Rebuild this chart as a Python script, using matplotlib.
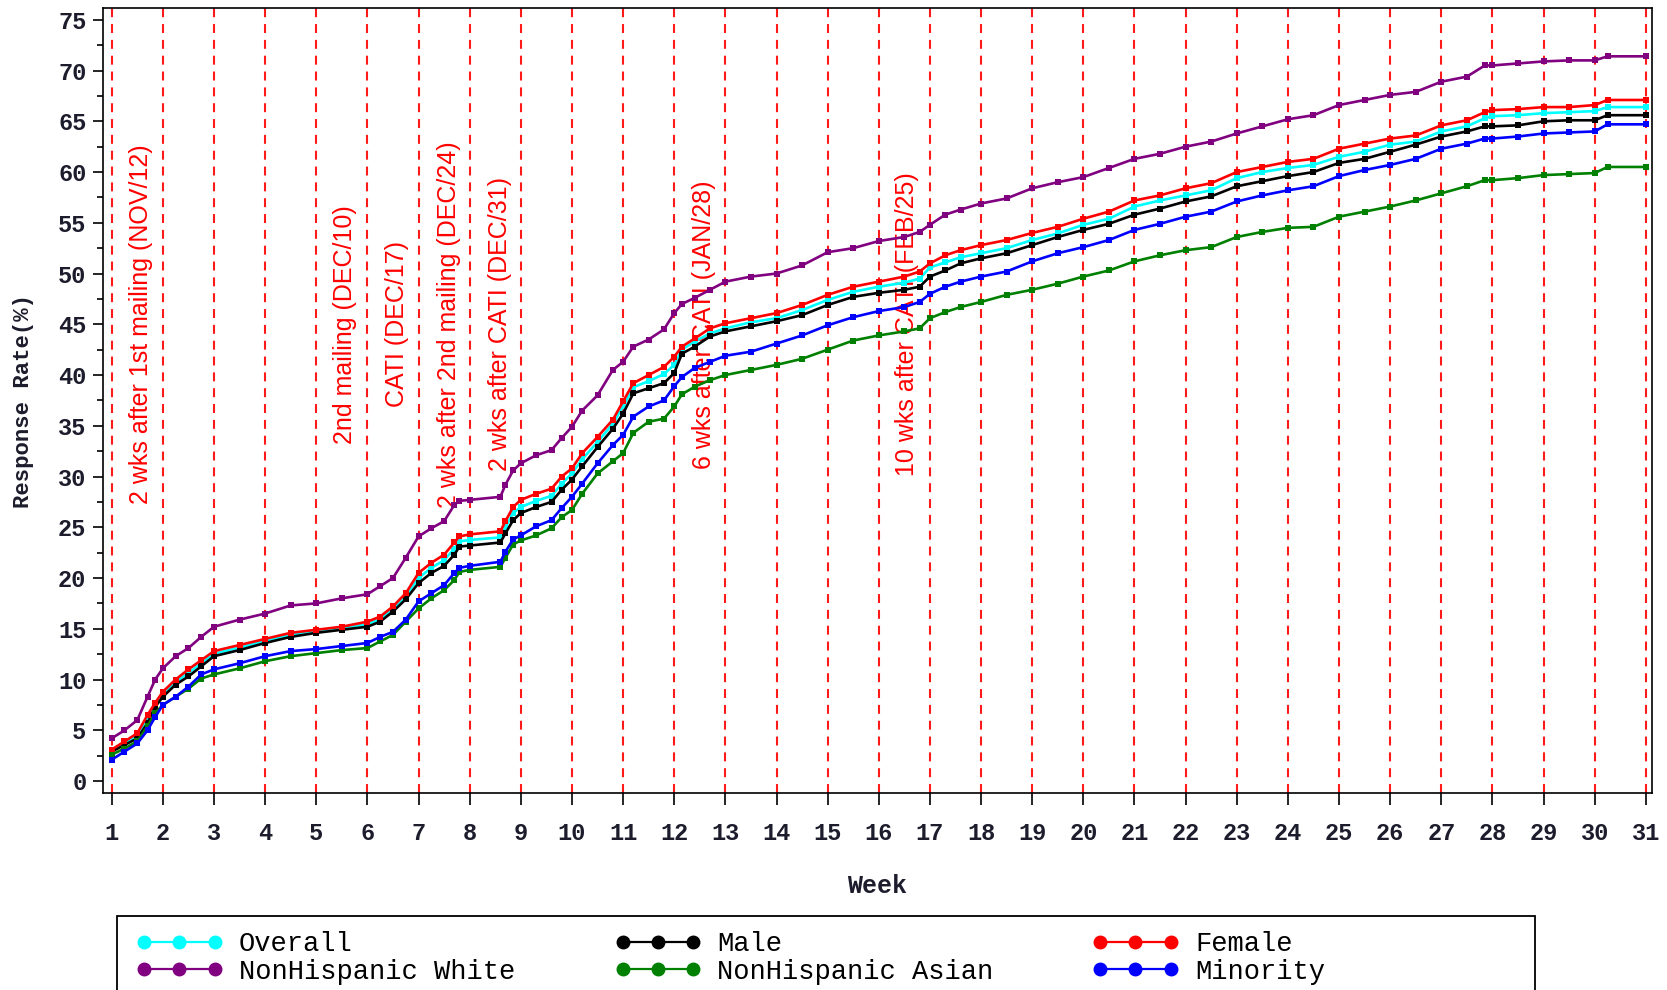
import numpy as np
import matplotlib
matplotlib.use("Agg")
import matplotlib.pyplot as plt
from matplotlib.lines import Line2D
from matplotlib.patches import Rectangle

# cumulative response rate (%) by week since first mailing
weeks = [1, 1.25, 1.5, 1.7, 1.85, 2, 2.25, 2.5, 2.75, 3, 3.5, 4, 4.5, 5, 5.5,
         6, 6.25, 6.5, 6.75, 7, 7.25, 7.5, 7.7, 7.8, 8, 8.6, 8.7, 8.85,
         9, 9.3, 9.6, 9.8, 10, 10.2, 10.5, 10.8, 11, 11.2, 11.5, 11.8,
         12, 12.15, 12.4, 12.7, 13, 13.5, 14, 14.5, 15, 15.5, 16, 16.5, 16.8,
         17, 17.3, 17.6, 18, 18.5, 19, 19.5, 20, 20.5, 21, 21.5, 22, 22.5,
         23, 23.5, 24, 24.5, 25, 25.5, 26, 26.5, 27, 27.5, 27.85, 28, 28.5,
         29, 29.5, 30, 30.25, 31]

overall = [3.0, 3.7, 4.45, 6.1, 7.5, 8.55, 9.75, 10.65, 11.6, 12.55, 13.15, 13.8, 14.4, 14.75, 15.05,
           15.45, 15.95, 16.95, 18.2, 20.0, 21.0, 21.75, 22.9, 23.6, 23.75, 24.0, 25.0, 26.4,
           27.0, 27.6, 28.1, 29.3, 30.3, 31.7, 33.4, 35.2, 36.9, 38.8, 39.4, 40.1,
           41.0, 42.5, 43.3, 44.1, 44.6, 45.2, 45.6, 46.4, 47.4, 48.2, 48.7, 49.1, 49.5,
           50.6, 51.1, 51.6, 52.0, 52.5, 53.3, 53.95, 54.8, 55.4, 56.6, 57.2, 57.7, 58.2,
           59.4, 60.0, 60.4, 60.7, 61.5, 62.0, 62.7, 63.0, 64.0, 64.5, 65.3, 65.5, 65.6,
           65.8, 65.9, 66.0, 66.4, 66.4]

male = [2.9, 3.55, 4.2, 5.7, 7.3, 8.3, 9.5, 10.3, 11.3, 12.3, 12.9, 13.6, 14.2, 14.6, 14.9,
        15.2, 15.7, 16.7, 17.9, 19.5, 20.5, 21.2, 22.3, 23.1, 23.2, 23.5, 24.4, 25.7,
        26.4, 27.0, 27.5, 28.7, 29.7, 31.0, 32.9, 34.7, 36.2, 38.2, 38.7, 39.2,
        40.2, 42.1, 42.8, 43.8, 44.3, 44.8, 45.3, 45.9, 46.9, 47.7, 48.1, 48.4, 48.7,
        49.7, 50.3, 51.0, 51.5, 52.0, 52.8, 53.6, 54.3, 54.9, 55.8, 56.4, 57.1, 57.6,
        58.6, 59.1, 59.6, 60.0, 60.9, 61.3, 62.0, 62.7, 63.5, 64.0, 64.5, 64.5, 64.6,
        65.0, 65.1, 65.1, 65.6, 65.6]

female = [3.1, 3.9, 4.7, 6.5, 7.7, 8.8, 10.0, 11.0, 11.9, 12.8, 13.4, 14.0, 14.6, 14.9, 15.2,
          15.7, 16.2, 17.2, 18.5, 20.5, 21.5, 22.3, 23.5, 24.1, 24.3, 24.6, 25.6, 27.0,
          27.7, 28.3, 28.8, 30.0, 30.8, 32.3, 33.9, 35.6, 37.4, 39.2, 40.0, 40.8,
          41.8, 42.8, 43.6, 44.6, 45.1, 45.6, 46.1, 46.9, 47.9, 48.7, 49.2, 49.7, 50.2,
          51.0, 51.8, 52.3, 52.8, 53.3, 54.0, 54.6, 55.4, 56.1, 57.2, 57.7, 58.4, 58.9,
          60.0, 60.5, 61.0, 61.3, 62.3, 62.8, 63.3, 63.6, 64.6, 65.1, 65.9, 66.1, 66.2,
          66.4, 66.4, 66.6, 67.1, 67.1]

nh_white = [4.2, 5.0, 6.0, 8.3, 10.0, 11.1, 12.3, 13.1, 14.2, 15.2, 15.9, 16.5, 17.3, 17.5, 18.0,
            18.4, 19.2, 20.0, 22.0, 24.1, 24.9, 25.6, 27.2, 27.6, 27.7, 28.0, 29.2, 30.6,
            31.3, 32.1, 32.6, 33.8, 34.9, 36.5, 38.0, 40.5, 41.3, 42.8, 43.5, 44.5,
            46.1, 47.0, 47.6, 48.4, 49.2, 49.7, 50.0, 50.8, 52.1, 52.5, 53.2, 53.6, 54.1,
            54.8, 55.8, 56.3, 56.9, 57.4, 58.4, 59.0, 59.5, 60.4, 61.3, 61.8, 62.5, 63.0,
            63.8, 64.5, 65.2, 65.6, 66.6, 67.1, 67.6, 67.9, 68.9, 69.4, 70.5, 70.5, 70.7,
            70.9, 71.0, 71.0, 71.4, 71.4]

nh_asian = [2.6, 3.2, 3.9, 5.4, 6.7, 7.5, 8.3, 9.1, 10.1, 10.5, 11.1, 11.8, 12.3, 12.6, 12.9,
            13.1, 13.75, 14.4, 15.7, 17.0, 18.0, 18.8, 19.8, 20.6, 20.8, 21.1, 22.0, 23.3,
            23.7, 24.2, 24.9, 26.0, 26.7, 28.3, 30.3, 31.5, 32.3, 34.3, 35.4, 35.7,
            36.9, 38.1, 38.85, 39.5, 40.0, 40.5, 41.0, 41.6, 42.5, 43.4, 43.9, 44.3, 44.6,
            45.6, 46.2, 46.7, 47.2, 47.9, 48.4, 49.0, 49.7, 50.3, 51.2, 51.8, 52.3, 52.6,
            53.6, 54.1, 54.5, 54.6, 55.6, 56.1, 56.6, 57.2, 57.9, 58.6, 59.2, 59.2, 59.4,
            59.7, 59.8, 59.9, 60.5, 60.5]

minority = [2.1, 2.9, 3.7, 5.0, 6.3, 7.5, 8.3, 9.3, 10.5, 11.0, 11.6, 12.3, 12.8, 13.0, 13.3,
            13.6, 14.2, 14.7, 15.9, 17.7, 18.5, 19.3, 20.5, 21.0, 21.2, 21.6, 22.6, 23.8,
            24.2, 25.1, 25.7, 26.9, 28.0, 29.3, 31.3, 33.1, 34.1, 35.9, 36.9, 37.5,
            38.9, 39.8, 40.7, 41.3, 41.9, 42.3, 43.1, 43.9, 44.9, 45.7, 46.3, 46.7, 47.2,
            48.0, 48.7, 49.2, 49.7, 50.2, 51.2, 52.0, 52.6, 53.3, 54.3, 54.9, 55.6, 56.1,
            57.1, 57.7, 58.2, 58.6, 59.6, 60.2, 60.7, 61.3, 62.3, 62.8, 63.3, 63.3, 63.5,
            63.8, 63.9, 64.0, 64.7, 64.7]

series_names = ['Overall', 'Male', 'Female',
                'NonHispanic White', 'NonHispanic Asian', 'Minority']
series_values = [overall, male, female, nh_white, nh_asian, minority]
series_colors = ['#00ffff', '#000000', '#ff0000', '#800080', '#008000', '#0000ff']

# fieldwork events, placed between week lines
event_weeks = [1.58, 5.57, 6.57, 7.59, 8.59, 12.58, 16.55]
event_labels = ['2 wks after 1st mailing (NOV/12)',
                '2nd mailing (DEC/10)',
                'CATI (DEC/17)',
                '2 wks after 2nd mailing (DEC/24)',
                '2 wks after CATI (DEC/31)',
                '6 wks after CATI (JAN/28)',
                '10 wks after CATI (FEB/25)']

plt.rcParams['font.family'] = ['Liberation Mono', 'DejaVu Sans Mono']

fig = plt.figure(figsize=(16.67, 9.9), dpi=100)
ax = fig.add_axes([0.0618, 0.199, 0.9292, 0.7929])

week_grid = np.arange(1, 32)
for w in week_grid:
    ax.axvline(w, color='#ff1a1a', lw=1.5, ls=(0, (4.3, 3.3)), zorder=1)

for w, txt in zip(event_weeks, event_labels):
    ax.text(w, 45, txt, rotation=90, ha='center', va='center', color='#ff0000',
            fontsize=18, family=['Liberation Sans', 'DejaVu Sans'], zorder=1.5)

for name, vals, col in zip(series_names, series_values, series_colors):
    ax.plot(weeks, vals, color=col, lw=1.9, marker='s', markersize=3.8,
            markeredgewidth=0, zorder=3, label=name)

ax.set_xlim(0.83, 31.12)
ax.set_ylim(-1.18, 76.16)
ax.set_xticks(week_grid)
ax.set_yticks(np.arange(0, 80, 5))
ax.set_yticks(np.arange(2.5, 76, 5), minor=True)

for sp in ax.spines.values():
    sp.set_linewidth(1.2)

ax.tick_params(axis='x', direction='out', length=8.6, width=1.2, pad=12,
               labelsize=17, labelcolor='#1c1c2c')
ax.tick_params(axis='y', which='major', direction='out', length=7, width=1.2,
               pad=5, labelsize=17, labelcolor='#1c1c2c')
ax.tick_params(axis='y', which='minor', direction='out', length=4.3, width=1.2)
for lab in ax.get_xticklabels() + ax.get_yticklabels():
    lab.set_fontweight('bold')

ax.set_xlabel('Week', fontsize=18, fontweight='bold', color='#1c1c2c')
ax.xaxis.set_label_coords(0.5, -0.1185)
ax.xaxis.label.set_va('center')
ax.set_ylabel('Response Rate(%)', fontsize=16, fontweight='bold', color='#1c1c2c')
ax.yaxis.set_label_coords(-0.0516, 0.5)
ax.yaxis.label.set_va('center')

# legend box runs off the bottom edge of the figure
fig.add_artist(Rectangle((0.0702, -0.1), 0.8506, 0.1747, transform=fig.transFigure,
                         fill=False, ec='black', lw=1.3, clip_on=False))

col_x = [0.0816, 0.3686, 0.6551]
for j, x0 in enumerate(col_x):
    handles = []
    labels = []
    for k in (j, j + 3):
        handles.append(Line2D([], [], color=series_colors[k], lw=1.6, marker='o',
                              markersize=9))
        labels.append(series_names[k])
    fig.legend(handles, labels, loc='center left', bbox_to_anchor=(x0, 0.0325),
               frameon=False, fontsize=19.5, numpoints=3, handlelength=3.2,
               handletextpad=0.6, labelspacing=0.05, borderpad=0, borderaxespad=0)

fig.savefig('out.png', dpi=100)
